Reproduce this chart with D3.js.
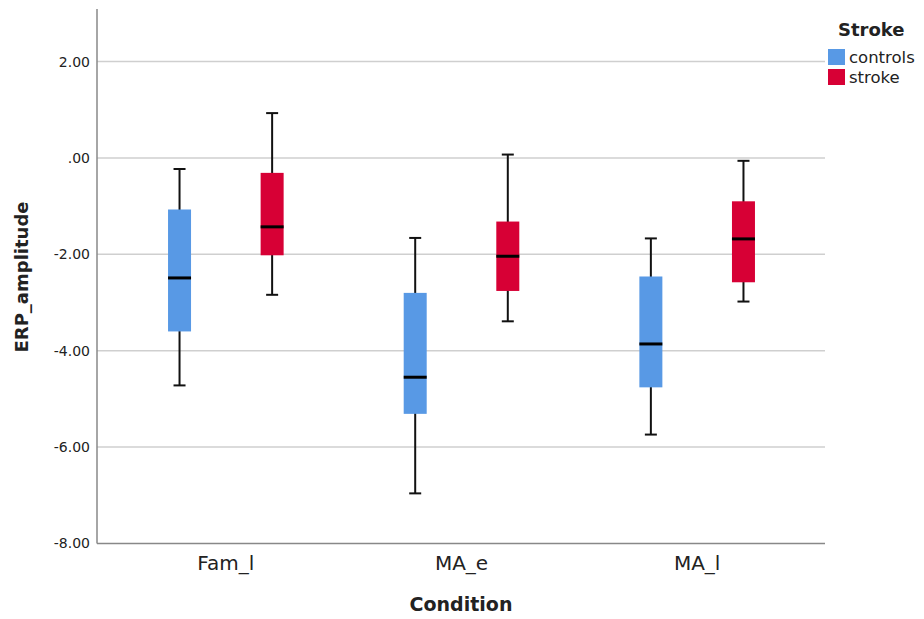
<!DOCTYPE html>
<html>
<head>
<meta charset="utf-8">
<script src="https://cdn.jsdelivr.net/npm/d3@7"></script>
<style>
  body { margin: 0; background: #fff; }
  text { font-family: "DejaVu Sans", sans-serif; fill: #222; }
</style>
</head>
<body>
<div id="chart"></div>
<script>
// data
const conditions = ["Fam_l", "MA_e", "MA_l"];
const groups = ["controls", "stroke"];
const groupColors = ["#5899e5", "#d70035"];
const yTicks = [2, 0, -2, -4, -6, -8];

// [whisker low, q1, median, q3, whisker high] per condition
const controlsStats = [
    [-4.72, -3.60, -2.49, -1.07, -0.23],
    [-6.96, -5.31, -4.55, -2.80, -1.66],
    [-5.74, -4.76, -3.86, -2.46, -1.67]
];
const strokeStats = [
    [-2.84, -2.02, -1.43, -0.31, 0.93],
    [-3.39, -2.76, -2.04, -1.32, 0.07],
    [-2.98, -2.58, -1.68, -0.90, -0.06]
];

const boxes = [];
conditions.forEach((c, i) => {
    boxes.push({ cond: c, group: "controls", s: controlsStats[i] });
    boxes.push({ cond: c, group: "stroke", s: strokeStats[i] });
});

const width = 924, height = 619;
const plot = { left: 97, right: 825, top: 9, bottom: 543.5 };

const svg = d3.select("#chart")
    .append("svg")
    .attr("width", width)
    .attr("height", height);

// scales
const yScale = d3.scaleLinear()
    .domain([-8, 3.09])
    .range([plot.bottom, plot.top]);

const xScale = d3.scaleBand()
    .domain(conditions)
    .range([108, 815]);

const xInner = d3.scaleBand()
    .domain(groups)
    .range([-46.3, 46.3])
    .paddingInner(0)
    .paddingOuter(-0.5);

const color = d3.scaleOrdinal().domain(groups).range(groupColors);

const fmt = v => v === 0 ? ".00" : d3.format(".2f")(v).replace("−", "-");

// gridlines
svg.append("g")
    .selectAll("line")
    .data(yTicks.filter(d => d !== -8))
    .join("line")
    .attr("x1", plot.left)
    .attr("x2", plot.right)
    .attr("y1", d => yScale(d))
    .attr("y2", d => yScale(d))
    .attr("stroke", "#cfcfcf")
    .attr("stroke-width", 1.5);

// y axis
const yAxis = d3.axisLeft(yScale)
    .tickValues(yTicks)
    .tickSize(0)
    .tickPadding(7)
    .tickFormat(fmt);

const yDisplay = svg.append("g")
    .attr("transform", `translate(${plot.left},0)`)
    .call(yAxis);
yDisplay.select(".domain").remove();
yDisplay.selectAll("text")
    .style("font-size", "14px")
    .attr("fill", "#222");

svg.append("line")
    .attr("x1", plot.left).attr("x2", plot.left)
    .attr("y1", plot.top).attr("y2", plot.bottom)
    .attr("stroke", "#888").attr("stroke-width", 1.5);

// x axis
const xAxis = d3.axisBottom(xScale)
    .tickSize(0)
    .tickPadding(12);

const xDisplay = svg.append("g")
    .attr("transform", `translate(0,${plot.bottom})`)
    .call(xAxis);
xDisplay.select(".domain").remove();
xDisplay.selectAll("text")
    .style("font-size", "20px")
    .attr("fill", "#222");

svg.append("line")
    .attr("x1", plot.left).attr("x2", plot.right)
    .attr("y1", plot.bottom).attr("y2", plot.bottom)
    .attr("stroke", "#888").attr("stroke-width", 1.5);

// boxplots
const boxW = 23, capW = 12;
const cx = d => xScale(d.cond) + xScale.bandwidth() / 2 + xInner(d.group) + xInner.bandwidth() / 2;

const g = svg.append("g")
    .selectAll("g")
    .data(boxes)
    .join("g");

// whiskers
g.append("line")
    .attr("x1", cx).attr("x2", cx)
    .attr("y1", d => yScale(d.s[0]))
    .attr("y2", d => yScale(d.s[4]))
    .attr("stroke", "#111").attr("stroke-width", 2);

g.selectAll(".cap")
    .data(d => [d.s[0], d.s[4]].map(v => ({ v, x: cx(d) })))
    .join("line")
    .attr("class", "cap")
    .attr("x1", d => d.x - capW / 2).attr("x2", d => d.x + capW / 2)
    .attr("y1", d => yScale(d.v)).attr("y2", d => yScale(d.v))
    .attr("stroke", "#111").attr("stroke-width", 2);

g.append("rect")
    .attr("x", d => cx(d) - boxW / 2)
    .attr("width", boxW)
    .attr("y", d => yScale(d.s[3]))
    .attr("height", d => yScale(d.s[1]) - yScale(d.s[3]))
    .attr("fill", d => color(d.group));

g.append("line")
    .attr("x1", d => cx(d) - boxW / 2).attr("x2", d => cx(d) + boxW / 2)
    .attr("y1", d => yScale(d.s[2])).attr("y2", d => yScale(d.s[2]))
    .attr("stroke", "#000").attr("stroke-width", 3);

// axis titles
svg.append("text")
    .attr("x", 461).attr("y", 611)
    .attr("text-anchor", "middle")
    .style("font-size", "19px").style("font-weight", "bold")
    .text("Condition");

svg.append("text")
    .attr("transform", "translate(28,277) rotate(-90)")
    .attr("text-anchor", "middle")
    .style("font-size", "18px").style("font-weight", "bold")
    .text("ERP_amplitude");

// legend
const legend = svg.append("g").attr("transform", "translate(828,0)");
legend.append("text")
    .attr("x", 10).attr("y", 36)
    .style("font-size", "18px").style("font-weight", "bold")
    .text("Stroke");

const items = legend.selectAll(".item")
    .data(groups)
    .join("g")
    .attr("class", "item")
    .attr("transform", (d, i) => `translate(0,${49 + i * 20})`);
items.append("rect")
    .attr("width", 17).attr("height", 16)
    .attr("fill", d => color(d));
items.append("text")
    .attr("x", 21).attr("y", 14)
    .style("font-size", "16.5px")
    .text(d => d);
</script>
</body>
</html>
